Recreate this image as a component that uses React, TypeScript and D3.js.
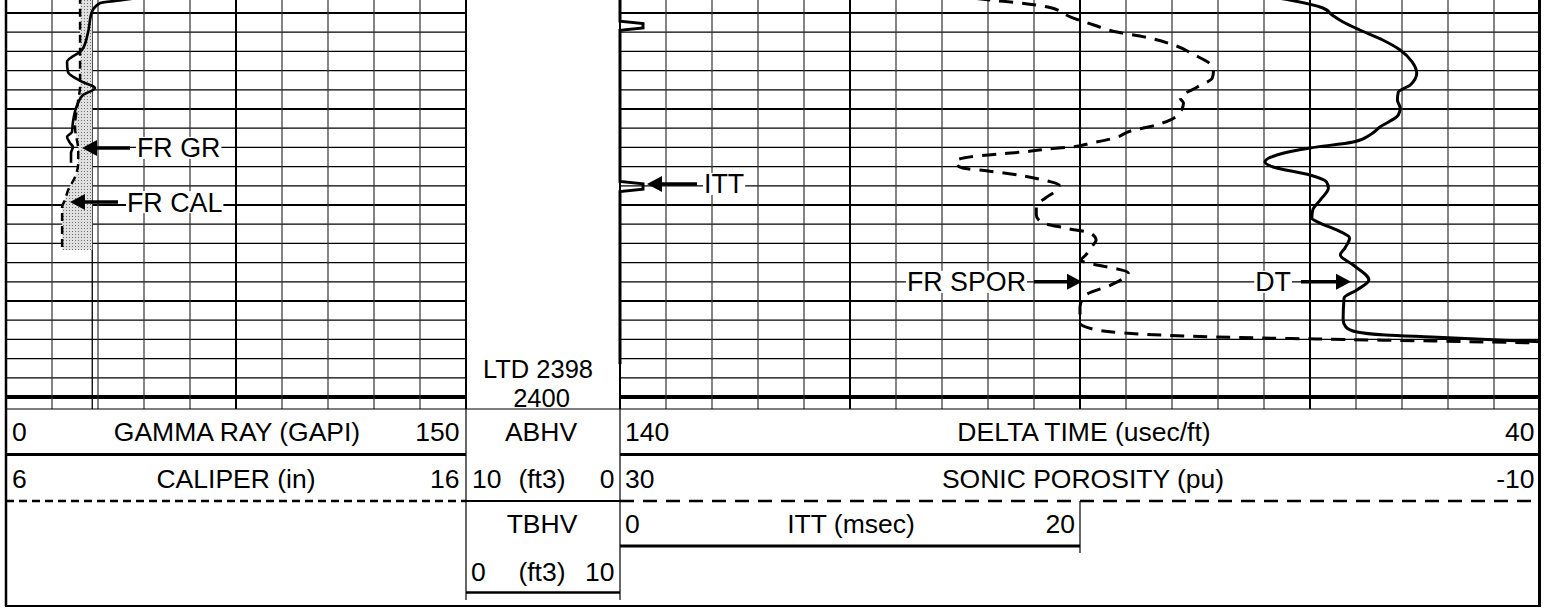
import React, { useEffect, useRef } from "react"
import * as d3 from "d3"

const WIDTH = 1548
const HEIGHT = 608
const FONT = "'Liberation Sans', Arial, Helvetica, sans-serif"

// depth (ft) / reading pairs
const grDepth = [2358.2, 2358.65, 2358.96, 2359.9, 2362.1, 2363.85, 2365.1, 2366.15, 2367.2, 2367.8, 2368.55, 2369.6, 2371.45, 2372.4, 2372.9, 2373.55, 2373.95, 2374.6, 2375.6]
const grValues = [48, 38.2, 30.7, 28.0, 26.7, 24.8, 19.9, 20.2, 25.1, 29.0, 25.1, 23.2, 21.8, 21.5, 19.9, 20.9, 21.8, 21.2, 21.2]

const calDepth = [2358.2, 2362.1, 2365.6, 2367.7, 2369.05, 2371.9, 2374.25, 2375.6, 2377.1, 2378.45, 2379.5, 2380.2, 2384.7]
const calValues = [7.61, 7.61, 7.61, 7.61, 7.57, 7.5, 7.57, 7.57, 7.5, 7.35, 7.28, 7.22, 7.22]
const bitSize = 7.875

const dtDepth = [2358.2, 2358.65, 2359.48, 2360.21, 2360.94, 2361.77, 2362.81, 2363.85, 2365.1, 2366.25, 2367.5, 2368.23, 2369.06, 2369.9, 2370.63, 2371.88, 2372.71, 2373.44, 2374.06, 2374.79, 2375.52, 2376.04, 2376.88, 2377.6, 2378.23, 2379.48, 2380.52, 2381.35, 2381.88, 2382.6, 2383.44, 2384.48, 2385.21, 2386.25, 2387.81, 2388.85, 2389.69, 2391.98, 2392.71, 2393.23, 2393.54, 2393.75, 2394.06, 2394.27]
const dtValues = [70.0, 67.2, 63.6, 62.6, 61.4, 59.6, 57.1, 55.2, 53.9, 53.4, 54.1, 55.4, 55.5, 55.2, 55.4, 57.4, 58.5, 60.3, 65.0, 68.6, 69.9, 69.0, 65.0, 63.2, 63.0, 63.9, 64.7, 64.8, 63.9, 62.1, 60.7, 61.2, 61.7, 60.3, 58.6, 59.9, 61.3, 61.4, 61.1, 59.9, 56.8, 51.8, 44.5, 39.5]

const sporDepth = [2358.2, 2358.65, 2358.96, 2359.38, 2360.42, 2361.25, 2361.98, 2362.4, 2363.44, 2364.27, 2365.42, 2366.15, 2366.77, 2367.71, 2368.85, 2369.38, 2370.73, 2371.67, 2372.29, 2373.02, 2373.54, 2373.96, 2374.17, 2374.48, 2374.69, 2374.9, 2375.42, 2375.83, 2376.15, 2376.46, 2376.77, 2377.19, 2377.5, 2377.92, 2378.44, 2379.27, 2380.1, 2381.04, 2381.77, 2382.4, 2382.92, 2383.65, 2384.38, 2385.21, 2385.73, 2387.08, 2388.33, 2389.38, 2390.63, 2392.29, 2393.02, 2393.75, 2393.96, 2394.17, 2394.38]
const sporValues = [15.5, 13.9, 12.6, 11.4, 10.4, 9.4, 8.4, 7.4, 5.8, 5.1, 4.3, 4.2, 4.25, 4.9, 5.65, 5.5, 5.8, 6.7, 7.8, 8.5, 9.5, 10.4, 11.4, 12.5, 13.5, 14.5, 15.4, 15.35, 15.1, 14.0, 13.0, 12.0, 11.4, 10.9, 11.0, 11.5, 11.9, 11.9, 11.7, 10.65, 9.55, 9.3, 9.5, 9.75, 9.95, 7.9, 8.65, 9.75, 10.0, 10.0, 9.25, 4.1, -0.3, -5.4, -10.2]

const ittDepth = [2358.2, 2360.85, 2361.1, 2361.55, 2361.8, 2377.55, 2377.8, 2378.35, 2378.6, 2396.6]
const ittValues = [0, 0, 1.0, 1.0, 0, 0, 1.0, 1.0, 0, 0]

const loggerTD = 2398
const depthMark = 2400

// header scale texts
const grScale = ["0", "GAMMA RAY (GAPI)", "150"]
const calScale = ["6", "CALIPER (in)", "16"]
const dtScale = ["140", "DELTA TIME (usec/ft)", "40"]
const sporScale = ["30", "SONIC POROSITY (pu)", "-10"]
const ittScale = ["0", "ITT (msec)", "20"]
const abhvScale = ["ABHV", "10", "(ft3)", "0"]
const tbhvScale = ["TBHV", "0", "(ft3)", "10"]

const App = () => {
  const svgRef = useRef<SVGSVGElement>(null)

  useEffect(() => {
    if (!svgRef.current) return
    const svg = d3.select(svgRef.current)
    svg.selectAll("*").remove()

    const y = d3.scaleLinear().domain([2360, 2400]).range([13, 397])
    const xGR = d3.scaleLinear().domain([0, 150]).range([6, 466])
    const xCAL = d3.scaleLinear().domain([6, 16]).range([6, 466])
    const xDT = d3.scaleLinear().domain([140, 40]).range([620, 1540])
    const xSPOR = d3.scaleLinear().domain([30, -10]).range([620, 1540])
    const xITT = d3.scaleLinear().domain([0, 20]).range([620, 1080])

    const gridBottom = 409
    const boxBottom = 606

    const defs = svg.append("defs")
    const pat = defs.append("pattern").attr("id", "stipple")
      .attr("width", 3).attr("height", 3).attr("patternUnits", "userSpaceOnUse")
    pat.append("rect").attr("width", 3).attr("height", 3).attr("fill", "#e0e0e0")
    pat.append("rect").attr("width", 1).attr("height", 1).attr("fill", "#6e6e6e")
    defs.append("clipPath").attr("id", "clip1").append("rect")
      .attr("x", 6).attr("y", 0).attr("width", 460).attr("height", gridBottom)
    defs.append("clipPath").attr("id", "clip2").append("rect")
      .attr("x", 618).attr("y", 0).attr("width", 922).attr("height", gridBottom)

    svg.append("rect").attr("width", WIDTH).attr("height", HEIGHT).attr("fill", "#fff")

    const hline = (x1: number, x2: number, yy: number, w: number, dash?: string) =>
      svg.append("line").attr("x1", x1).attr("x2", x2).attr("y1", yy).attr("y2", yy)
        .attr("stroke", "#000").attr("stroke-width", w).attr("stroke-dasharray", dash || null)
    const vline = (xx: number, y1: number, y2: number, w: number, color = "#000") =>
      svg.append("line").attr("x1", xx).attr("x2", xx).attr("y1", y1).attr("y2", y2)
        .attr("stroke", color).attr("stroke-width", w)

    // depth grid, every 2 ft, heavier every 10 ft
    const depthLines = d3.range(2358, 2402, 2)
    const depthWidth = (d: number) => (d === depthMark ? 4 : d % 10 === 0 ? 2.2 : 1.2)
    ;[[6, 466], [620, 1540]].forEach(([a, b]) => {
      depthLines.forEach(d => hline(a, b, y(d), depthWidth(d)))
    })

    // vertical grid
    d3.range(1, 10).forEach(i => {
      vline(xGR(i * 15), 0, gridBottom, i % 5 === 0 ? 2 : 1.2, i % 5 === 0 ? "#000" : "#333")
    })
    d3.range(1, 20).forEach(i => {
      vline(xDT(140 - i * 5), 0, gridBottom, i % 5 === 0 ? 2 : 1.2, i % 5 === 0 ? "#000" : "#333")
    })
    vline(xCAL(bitSize), 0, gridBottom, 1.3)

    // track borders
    vline(466, 0, gridBottom, 2)
    vline(620, 0, gridBottom, 2)
    vline(6, 0, boxBottom, 2.5)
    vline(1539.5, 0, boxBottom, 3)

    // caliper vs bit size fill
    const calPts = calDepth.map((d, i) => ({ d, v: calValues[i] }))
    svg.append("path")
      .datum(calPts)
      .attr("clip-path", "url(#clip1)")
      .attr("fill", "url(#stipple)")
      .attr("d", d3.area<{ d: number; v: number }>()
        .y(p => y(p.d)).x0(p => xCAL(p.v)).x1(() => xCAL(bitSize))
        .curve(d3.curveMonotoneY))

    const curve = (depths: number[], vals: number[], sx: d3.ScaleLinear<number, number>) =>
      d3.line<number>().x((_, i) => sx(vals[i])).y(d => y(d)).curve(d3.curveMonotoneY)(depths)

    svg.append("path").attr("clip-path", "url(#clip1)")
      .attr("d", curve(calDepth, calValues, xCAL))
      .attr("fill", "none").attr("stroke", "#000").attr("stroke-width", 2.5).attr("stroke-dasharray", "8,5")
    svg.append("path").attr("clip-path", "url(#clip1)")
      .attr("d", curve(grDepth, grValues, xGR))
      .attr("fill", "none").attr("stroke", "#000").attr("stroke-width", 2.6)

    svg.append("path").attr("clip-path", "url(#clip2)")
      .attr("d", curve(sporDepth, sporValues, xSPOR))
      .attr("fill", "none").attr("stroke", "#000").attr("stroke-width", 3).attr("stroke-dasharray", "14,9")
    svg.append("path").attr("clip-path", "url(#clip2)")
      .attr("d", curve(dtDepth, dtValues, xDT))
      .attr("fill", "none").attr("stroke", "#000").attr("stroke-width", 3)

    svg.append("path")
      .attr("d", d3.line<number>().x((_, i) => xITT(ittValues[i])).y(d => y(d))(ittDepth))
      .attr("fill", "none").attr("stroke", "#000").attr("stroke-width", 3).attr("stroke-linejoin", "miter")

    // curve call-outs
    const annotate = (label: string, yy: number, tipX: number, tailX: number, textX: number, anchor: string) => {
      const g = svg.append("g")
      const bg = g.append("rect").attr("fill", "#fff")
      const t = g.append("text").attr("x", textX).attr("y", yy + 9.6)
        .attr("text-anchor", anchor).attr("font-size", 26.8).attr("font-family", FONT).text(label)
      const bb = (t.node() as SVGTextElement).getBBox()
      bg.attr("x", bb.x - 1).attr("y", yy - 11).attr("width", bb.width + 2).attr("height", 22)
      const dir = tipX < tailX ? -1 : 1
      const head = 15
      g.append("line").attr("x1", tailX).attr("x2", tipX - dir * head).attr("y1", yy).attr("y2", yy)
        .attr("stroke", "#000").attr("stroke-width", 3.5)
      g.append("path").attr("fill", "#000")
        .attr("d", `M${tipX},${yy} L${tipX - dir * head},${yy - 8} L${tipX - dir * head},${yy + 8} Z`)
    }
    annotate("FR GR", y(2374.05), 82, 130, 137, "start")
    annotate("FR CAL", y(2379.7), 70, 118, 127, "start")
    annotate("ITT", y(2377.8), 647, 697, 704, "start")
    annotate("FR SPOR", y(2388.0), 1082, 1034, 1026, "end")
    annotate("DT", y(2388.0), 1351, 1301, 1291, "end")

    // depth track text
    const txt = (s: string, xx: number, yy: number, anchor: string, size = 26.5) =>
      svg.append("text").attr("x", xx).attr("y", yy).attr("text-anchor", anchor)
        .attr("font-size", size).attr("font-family", FONT).attr("fill", "#000").text(s)
    txt(`LTD ${loggerTD}`, 538, y(loggerTD), "middle", 25.5)
    txt(`${depthMark}`, 541.5, y(depthMark) + 9.5, "middle", 25.5)

    // header
    hline(6, 1540, gridBottom, 1.2)
    hline(6, 466, 454.5, 3)
    hline(620, 1540, 454.5, 3)
    hline(6, 466, 501, 2.5, "8,5")
    hline(466, 620, 501, 2)
    hline(620, 1540, 501, 2.5, "14,9")
    hline(620, 1080, 546, 3)
    vline(1080, 501, 553, 1.2)
    hline(466, 620, 592.5, 2.5)
    vline(466, gridBottom, 600, 1.2)
    vline(620, gridBottom, 600, 1.2)
    hline(5, 1541, boxBottom, 2)

    const r1 = 441, r2 = 488, r3 = 533, r4 = 581
    txt(grScale[0], 12, r1, "start")
    txt(grScale[1], 237, r1, "middle")
    txt(grScale[2], 459.5, r1, "end")
    txt(calScale[0], 12, r2, "start")
    txt(calScale[1], 236, r2, "middle")
    txt(calScale[2], 459.5, r2, "end")

    txt(abhvScale[0], 541, r1, "middle")
    txt(abhvScale[1], 472, r2, "start")
    txt(abhvScale[2], 542, r2, "middle")
    txt(abhvScale[3], 614.5, r2, "end")
    txt(tbhvScale[0], 542, r3, "middle")
    txt(tbhvScale[1], 471, r4, "start")
    txt(tbhvScale[2], 542, r4, "middle")
    txt(tbhvScale[3], 614.5, r4, "end")

    txt(dtScale[0], 625, r1, "start")
    txt(dtScale[1], 1084, r1, "middle")
    txt(dtScale[2], 1534.5, r1, "end")
    txt(sporScale[0], 625, r2, "start")
    txt(sporScale[1], 1083, r2, "middle")
    txt(sporScale[2], 1534.5, r2, "end")
    txt(ittScale[0], 625, r3, "start")
    txt(ittScale[1], 851, r3, "middle")
    txt(ittScale[2], 1075, r3, "end")
  }, [])

  return (
    <svg
      ref={svgRef}
      width={WIDTH}
      height={HEIGHT}
      style={{ position: "absolute", left: 0, top: 0, display: "block" }}
    />
  )
}

export default App
